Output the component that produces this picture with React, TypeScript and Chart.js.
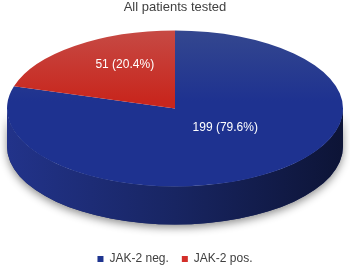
import { useEffect, useRef } from 'react';
import { Chart, registerables } from 'chart.js';

Chart.register(...registerables);

const TITLE = 'All patients tested';
const categories = ['JAK-2 neg.', 'JAK-2 pos.'];
const counts = [199, 51];

const topLight = ['#34478f', '#c64a44'];
const topDark = ['#1e3290', '#c8261d'];
const sideColors = [
  ['#22338a', '#182562', '#0d1436'],
  ['#8a1a14', '#6a120e', '#3a0806'],
];
const legendColors = ['#1f3590', '#d32f2a'];

const DEPTH = 38;
const ASPECT = 0.464;
const LABEL_R = 0.5;
const LIFT = 0.16;
const FONT = 'Arial, "Liberation Sans", sans-serif';

function geom(chart: any) {
  const a = chart.chartArea;
  const rx = (a.right - a.left) / 2;
  const ry = rx * ASPECT;
  return { cx: (a.left + a.right) / 2, cy: a.top + ry, rx, ry };
}

const pie3d = {
  id: 'pie3d',
  beforeDatasetsDraw(chart: any) {
    const meta = chart.getDatasetMeta(0);
    const { cx, cy, rx, ry } = geom(chart);
    const ctx = chart.ctx as CanvasRenderingContext2D;
    ctx.save();
    ctx.shadowColor = 'rgba(0,0,0,0.45)';
    ctx.shadowBlur = 8;
    ctx.shadowOffsetY = 3;
    ctx.beginPath();
    ctx.ellipse(cx, cy, rx, ry, 0, 0, Math.PI, false);
    ctx.lineTo(cx - rx, cy + DEPTH);
    ctx.ellipse(cx, cy + DEPTH, rx, ry, 0, Math.PI, 0, true);
    ctx.closePath();
    ctx.fillStyle = sideColors[0][1];
    ctx.fill();
    ctx.restore();

    ctx.save();
    meta.data.forEach((arc: any, i: number) => {
      const s = arc.startAngle;
      const e = arc.endAngle;
      for (let k = -1; k <= 2; k++) {
        const lo = Math.max(s, k * 2 * Math.PI);
        const hi = Math.min(e, k * 2 * Math.PI + Math.PI);
        if (hi <= lo) continue;
        const g = ctx.createLinearGradient(cx - rx, 0, cx + rx, 0);
        g.addColorStop(0, sideColors[i][0]);
        g.addColorStop(0.5, sideColors[i][1]);
        g.addColorStop(1, sideColors[i][2]);
        ctx.beginPath();
        ctx.ellipse(cx, cy, rx, ry, 0, lo, hi, false);
        ctx.lineTo(cx + rx * Math.cos(hi), cy + DEPTH + ry * Math.sin(hi));
        ctx.ellipse(cx, cy + DEPTH, rx, ry, 0, hi, lo, true);
        ctx.closePath();
        ctx.fillStyle = g;
        ctx.fill();
      }
    });
    ctx.restore();
  },
  beforeDatasetDraw(chart: any) {
    const meta = chart.getDatasetMeta(0);
    const el = meta.data[0];
    if (!el) return;
    const { cx, cy, rx, ry } = geom(chart);
    const R = el.outerRadius || 1;
    const ctx = chart.ctx as CanvasRenderingContext2D;
    ctx.save();
    ctx.translate(cx, cy);
    ctx.scale(rx / R, ry / R);
    ctx.translate(-el.x, -el.y);
  },
  afterDatasetDraw(chart: any) {
    chart.ctx.restore();
  },
  afterDatasetsDraw(chart: any) {
    const meta = chart.getDatasetMeta(0);
    const { cx, cy, rx, ry } = geom(chart);
    const ctx = chart.ctx as CanvasRenderingContext2D;
    const total = counts.reduce((a, b) => a + b, 0);
    ctx.save();
    ctx.fillStyle = '#ffffff';
    ctx.font = `12px ${FONT}`;
    ctx.textAlign = 'center';
    ctx.textBaseline = 'middle';
    meta.data.forEach((arc: any, i: number) => {
      const mid = (arc.startAngle + arc.endAngle) / 2;
      const x = cx + LABEL_R * rx * Math.cos(mid);
      const y = cy + LABEL_R * ry * Math.sin(mid) - LIFT * ry;
      const pct = ((counts[i] / total) * 100).toFixed(1);
      ctx.fillText(`${counts[i]} (${pct}%)`, x, y);
    });
    ctx.restore();
  },
};

function topFill(i: number) {
  return (context: any) => {
    const a = context.chart.chartArea;
    if (!a) return topDark[i];
    const cy = (a.top + a.bottom) / 2;
    const R = Math.min(a.right - a.left, a.bottom - a.top) / 2;
    const g = context.chart.ctx.createLinearGradient(0, cy - R, 0, cy + R);
    g.addColorStop(0, topLight[i]);
    g.addColorStop(0.45, topDark[i]);
    g.addColorStop(1, topDark[i]);
    return g;
  };
}

export default function App() {
  const ref = useRef<HTMLCanvasElement>(null);
  useEffect(() => {
    document.body.style.margin = '0';
    const chart = new Chart(ref.current!, {
      type: 'pie',
      data: {
        labels: categories,
        datasets: [
          {
            data: counts,
            backgroundColor: (ctx: any) => topFill(ctx.dataIndex)(ctx),
            borderWidth: 0,
            clip: false as any,
          },
        ],
      },
      options: {
        animation: false,
        responsive: true,
        maintainAspectRatio: false,
        layout: { padding: { left: 7, right: 7, top: 0, bottom: -4 } },
        plugins: {
          tooltip: { enabled: false },
          title: {
            display: true,
            text: TITLE,
            color: '#404040',
            font: { family: FONT, size: 13, weight: 'normal' },
            padding: { top: 0, bottom: 15 },
          },
          legend: {
            position: 'bottom',
            labels: {
              boxWidth: 6,
              boxHeight: 6,
              padding: 13,
              color: '#404040',
              font: { family: FONT, size: 12 },
              generateLabels: () =>
                categories.map((c, i) => ({
                  text: c,
                  fillStyle: legendColors[i],
                  strokeStyle: legendColors[i],
                  lineWidth: 0,
                  hidden: false,
                  index: i,
                  fontColor: '#404040',
                })),
            },
          },
        },
      },
      plugins: [pie3d],
    });
    return () => chart.destroy();
  }, []);
  return (
    <div style={{ width: 350, height: 271, position: 'relative' }}>
      <canvas ref={ref} />
    </div>
  );
}
